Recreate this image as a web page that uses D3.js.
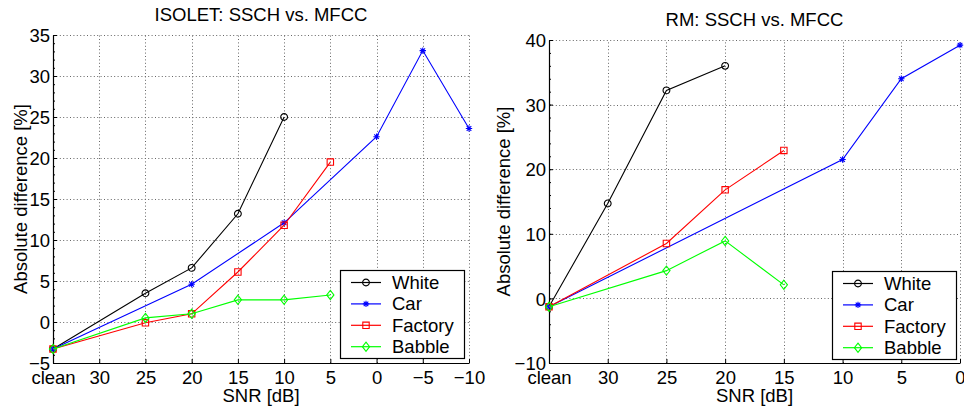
<!DOCTYPE html>
<html><head><meta charset="utf-8">
<script src="https://cdn.jsdelivr.net/npm/d3@7"></script>
<style>
body{margin:0;background:#fff;}
svg{display:block;font-family:"Liberation Sans",Arial,Helvetica,sans-serif;}
</style></head>
<body>
<svg id="chart" width="964" height="408"></svg>
<script>
// ---------- data ----------
const seriesNames = ["White", "Car", "Factory", "Babble"];
const seriesColors = ["#000000", "#0000ff", "#ff0000", "#00ff00"];
const seriesMarkers = ["circle", "star", "square", "diamond"];

// Left: ISOLET
const isoletCategories = ["clean", "30", "25", "20", "15", "10", "5", "0", "-5", "-10"];
const isoletTickLabels = ["clean", "30", "25", "20", "15", "10", "5", "0", "\u22125", "\u221210"];
const isoletWhite   = [-3.3, null, 3.5, 6.6, 13.2, 25.0, null, null, null, null];
const isoletCar     = [-3.3, null, null, 4.6, null, 12.1, null, 22.6, 33.1, 23.6];
const isoletFactory = [-3.3, null, -0.1, 1.0, 6.1, 11.8, 19.5, null, null, null];
const isoletBabble  = [-3.3, null, 0.5, 1.0, 2.7, 2.7, 3.3, null, null, null];
const isoletYTicks = [-5, 0, 5, 10, 15, 20, 25, 30, 35];
const isoletYTickLabels = ["\u22125", "0", "5", "10", "15", "20", "25", "30", "35"];

// Right: RM
const rmCategories = ["clean", "30", "25", "20", "15", "10", "5", "0"];
const rmTickLabels = ["clean", "30", "25", "20", "15", "10", "5", "0"];
const rmWhite   = [-1.3, 14.7, 32.2, 36.0, null, null, null, null];
const rmCar     = [-1.3, null, null, null, null, 21.5, 34.0, 39.2];
const rmFactory = [-1.3, null, 8.5, 16.8, 22.9, null, null, null];
const rmBabble  = [-1.3, null, 4.3, 8.9, 2.1, null, null, null];
const rmYTicks = [-10, 0, 10, 20, 30, 40];
const rmYTickLabels = ["\u221210", "0", "10", "20", "30", "40"];

const svg = d3.select("#chart");
const FS = 18.5;

function markerPath(type) {
  const p = d3.path();
  if (type === "circle") { p.moveTo(3.4, 0); p.arc(0, 0, 3.4, 0, 2 * Math.PI); }
  else if (type === "square") { p.rect(-3.2, -3.2, 6.4, 6.4); }
  else if (type === "diamond") { p.moveTo(0, -4.6); p.lineTo(3.6, 0); p.lineTo(0, 4.6); p.lineTo(-3.6, 0); p.closePath(); }
  else if (type === "star") {
    const r = 3.2, d = 2.3;
    p.moveTo(-r, 0); p.lineTo(r, 0); p.moveTo(0, -r); p.lineTo(0, r);
    p.moveTo(-d, -d); p.lineTo(d, d); p.moveTo(-d, d); p.lineTo(d, -d);
  }
  return p.toString();
}

function drawPanel(cfg) {
  const g = svg.append("g");
  const x = d3.scalePoint().domain(cfg.categories).range([cfg.left, cfg.right]);
  const y = d3.scaleLinear().domain(cfg.yDomain).range([cfg.bottom, cfg.top]);

  // grid
  const grid = g.append("g").attr("stroke", "#666").attr("stroke-width", 1).attr("stroke-dasharray", "1,2.4");
  grid.selectAll("line.v").data(cfg.categories.slice(1)).join("line")
    .attr("x1", d => Math.round(x(d)) + 0.5).attr("x2", d => Math.round(x(d)) + 0.5)
    .attr("y1", cfg.bottom).attr("y2", cfg.top);
  grid.selectAll("line.h").data(cfg.yTicks.slice(1)).join("line")
    .attr("x1", cfg.left).attr("x2", cfg.right)
    .attr("y1", d => Math.round(y(d)) + 0.5).attr("y2", d => Math.round(y(d)) + 0.5);

  // axes
  const yAxis = d3.axisLeft(y).tickValues(cfg.yTicks).tickSizeInner(-4).tickSizeOuter(0)
    .tickFormat((d, i) => cfg.yTickLabels[i]).tickPadding(3);
  const ya = g.append("g").attr("transform", `translate(${cfg.left},0)`).call(yAxis);
  const yMinor = d3.axisLeft(y).tickValues(d3.range(cfg.yDomain[0], cfg.yDomain[1] + 0.001, cfg.yMinor))
    .tickSize(-2).tickFormat("");
  g.append("g").attr("transform", `translate(${cfg.left},0)`).call(yMinor)
    .call(s => s.select(".domain").remove());
  const xAxis = d3.axisBottom(x).tickSizeInner(-4).tickSizeOuter(0)
    .tickFormat((d, i) => cfg.tickLabels[i]).tickPadding(8);
  const xa = g.append("g").attr("transform", `translate(0,${cfg.bottom})`).call(xAxis);
  [ya, xa].forEach(a => {
    a.selectAll("text").attr("font-size", FS).attr("font-family", "Liberation Sans, Arial, sans-serif").attr("fill", "#000");
    a.selectAll("line").attr("stroke", "#000");
    a.select(".domain").attr("stroke", "#000").attr("stroke-width", 1.2);
  });
  ya.selectAll("text").attr("dy", "0.36em");
  xa.selectAll("text").attr("dy", "0.72em");

  // lines
  const line = d3.line().x(d => x(d.c)).y(d => y(d.v));
  cfg.series.forEach((vals, si) => {
    const pts = vals.map((v, i) => ({ c: cfg.categories[i], v })).filter(d => d.v !== null);
    g.append("path").datum(pts).attr("fill", "none").attr("stroke", seriesColors[si])
      .attr("stroke-width", 1.1).attr("d", line);
    g.selectAll(null).data(pts).join("path")
      .attr("transform", d => `translate(${x(d.c)},${y(d.v)})`)
      .attr("d", markerPath(seriesMarkers[si]))
      .attr("fill", "none").attr("stroke", seriesColors[si]).attr("stroke-width", 1.1);
  });

  // titles
  g.append("text").attr("x", (cfg.left + cfg.right) / 2).attr("y", cfg.top - 14)
    .attr("text-anchor", "middle").attr("font-size", FS).text(cfg.title);
  g.append("text").attr("x", (cfg.left + cfg.right) / 2).attr("y", 402)
    .attr("text-anchor", "middle").attr("font-size", FS).text("SNR [dB]");
  g.append("text").attr("transform", `translate(${cfg.ylabX},${(cfg.top + cfg.bottom) / 2}) rotate(-90)`)
    .attr("text-anchor", "middle").attr("font-size", FS).text("Absolute difference [%]");

  // legend
  const lg = g.append("g");
  lg.append("rect").attr("x", cfg.legX + 0.5).attr("y", cfg.legY + 0.5).attr("width", 124).attr("height", 88)
    .attr("fill", "#fff").attr("stroke", "#000").attr("stroke-width", 1.2);
  seriesNames.forEach((n, i) => {
    const cy = cfg.legY + 12.5 + i * 21.4;
    lg.append("line").attr("x1", cfg.legX + 11).attr("x2", cfg.legX + 41).attr("y1", cy).attr("y2", cy)
      .attr("stroke", seriesColors[i]).attr("stroke-width", 1.2);
    lg.append("path").attr("transform", `translate(${cfg.legX + 26},${cy})`).attr("d", markerPath(seriesMarkers[i]))
      .attr("fill", "none").attr("stroke", seriesColors[i]).attr("stroke-width", 1.1);
    lg.append("text").attr("x", cfg.legX + 52).attr("y", cy + 6.5).attr("font-size", FS).text(n);
  });
}

drawPanel({
  categories: isoletCategories, tickLabels: isoletTickLabels,
  yDomain: [-5, 35], yTicks: isoletYTicks, yTickLabels: isoletYTickLabels, yMinor: 1,
  series: [isoletWhite, isoletCar, isoletFactory, isoletBabble],
  left: 53, right: 469, top: 35, bottom: 363, title: "ISOLET: SSCH vs. MFCC", ylabX: 27,
  legX: 340, legY: 270
});
drawPanel({
  categories: rmCategories, tickLabels: rmTickLabels,
  yDomain: [-10, 40], yTicks: rmYTicks, yTickLabels: rmYTickLabels, yMinor: 2,
  series: [rmWhite, rmCar, rmFactory, rmBabble],
  left: 549, right: 960, top: 40, bottom: 363, title: "RM: SSCH vs. MFCC", ylabX: 510,
  legX: 832, legY: 271
});
</script>
</body></html>
